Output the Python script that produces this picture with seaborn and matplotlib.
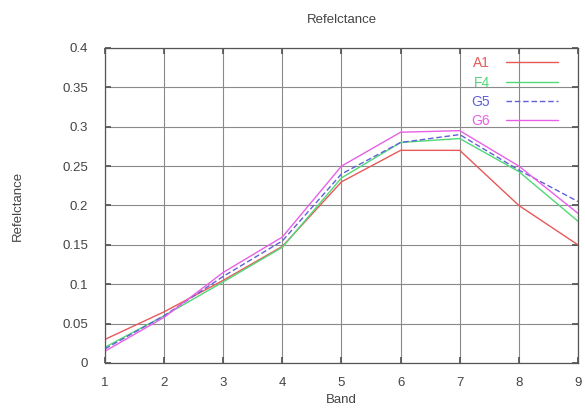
import matplotlib
matplotlib.use("Agg")
import matplotlib.pyplot as plt
import seaborn as sns
import pandas as pd

bands = [1, 2, 3, 4, 5, 6, 7, 8, 9]
a1 = [0.030, 0.065, 0.105, 0.148, 0.230, 0.270, 0.270, 0.200, 0.150]
f4 = [0.020, 0.060, 0.103, 0.147, 0.235, 0.280, 0.285, 0.243, 0.180]
g5 = [0.018, 0.060, 0.110, 0.155, 0.240, 0.280, 0.290, 0.245, 0.205]
g6 = [0.015, 0.058, 0.115, 0.160, 0.250, 0.293, 0.295, 0.250, 0.190]
series_names = ["A1", "F4", "G5", "G6"]

sns.set_theme(style="white")
plt.rcParams['font.family'] = ['Liberation Sans', 'DejaVu Sans']

df = pd.DataFrame({"Band": bands * 4,
                   "Refl": a1 + f4 + g5 + g6,
                   "Series": sum([[n] * len(bands) for n in series_names], [])})

colors = {"A1": "#e85858", "F4": "#50d878", "G5": "#6060d8", "G6": "#e860e8"}
dashes = {"A1": "", "F4": "", "G5": (4, 2), "G6": ""}

fig = plt.figure(figsize=(5.85, 4.17), dpi=100)
ax = fig.add_axes([0.1795, 0.1295, 0.8085, 0.7555])
sns.lineplot(data=df, x="Band", y="Refl", hue="Series", style="Series",
             palette=colors, dashes=dashes, linewidth=1.0, ax=ax)

ax.set_xlim(1, 9)
ax.set_ylim(0, 0.4)
ax.set_xticks(bands)
ax.set_xticklabels([str(b) for b in bands])
yt = [0, 0.05, 0.1, 0.15, 0.2, 0.25, 0.3, 0.35, 0.4]
ax.set_yticks(yt)
ax.set_yticklabels(["0", "0.05", "0.1", "0.15", "0.2", "0.25", "0.3", "0.35", "0.4"])
ax.grid(True, color="#8a8a8a", linewidth=0.8)
ax.set_axisbelow(True)
for s in ax.spines.values():
    s.set_color("#555555")
    s.set_linewidth(0.9)
ax.tick_params(direction="in", length=4, colors="#555555", labelsize=9.5,
               top=True, right=True, bottom=True, left=True, labelcolor="#444444")
ax.tick_params(axis="x", pad=10)
ax.tick_params(axis="y", pad=12)
ax.set_xlabel("Band", fontsize=9.5, color="#444444", labelpad=4)
ax.set_ylabel("Refelctance", fontsize=9.5, color="#444444", labelpad=28)
ax.set_title("Refelctance", fontsize=9.5, color="#444444", pad=18)

leg = ax.legend(loc="upper right", bbox_to_anchor=(0.975, 1.0), frameon=False,
                markerfirst=False, labelcolor="linecolor", fontsize=10,
                handlelength=3.7, handletextpad=1.2, labelspacing=0.38,
                borderaxespad=0.2)
for t in leg.get_texts():
    t.set_ha("right")

fig.savefig("out.png", dpi=100, facecolor="white")
